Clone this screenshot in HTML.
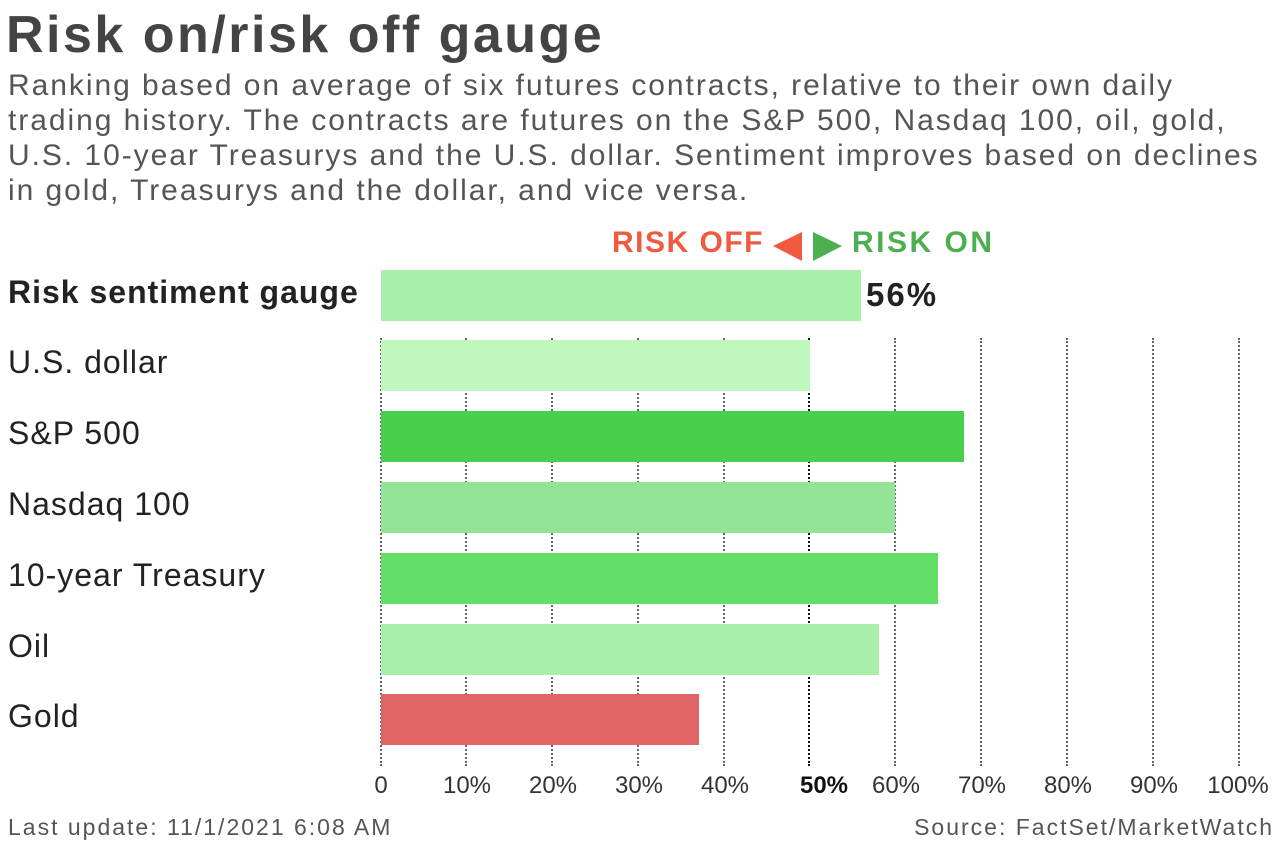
<!DOCTYPE html><html><head><style>
body{margin:0;width:1280px;height:844px;background:#fff;font-family:"Liberation Sans",sans-serif;position:relative;overflow:hidden}
.a{position:absolute;white-space:nowrap}
.lbl{font-size:32px;color:#222;left:8px;letter-spacing:1px}
.bar{position:absolute;left:381px;height:51px}
.g{position:absolute;top:338px;height:428px;width:0;border-left:2px dotted #666}
.t{position:absolute;top:772px;font-size:24px;color:#333;transform:translateX(-50%)}
</style></head><body>
<div class="a" style="left:6px;top:5px;font-size:52px;font-weight:bold;color:#444;letter-spacing:2.5px">Risk on/risk off gauge</div>
<div class="a" style="left:8px;top:68px;font-size:30px;line-height:35px;color:#555;letter-spacing:1.95px">Ranking based on average of six futures contracts, relative to their own daily<br>trading history. The contracts are futures on the S&amp;P 500, Nasdaq 100, oil, gold,<br>U.S. 10-year Treasurys and the U.S. dollar. Sentiment improves based on declines<br>in gold, Treasurys and the dollar, and vice versa.</div>
<div class="a" style="left:612px;top:226px;font-size:30px;font-weight:bold;color:#f05a40;letter-spacing:1.5px">RISK OFF</div>
<svg class="a" style="left:770px;top:230px" width="75" height="32"><polygon points="3,16 32,2 32,31" fill="#f05a40"/><polygon points="43,2 43,31 72,16" fill="#4caf50"/></svg>
<div class="a" style="left:852px;top:226px;font-size:30px;font-weight:bold;color:#4caf50;letter-spacing:2.5px">RISK ON</div>
<div class="g" style="left:380px"></div><div class="g" style="left:465px"></div><div class="g" style="left:551px"></div><div class="g" style="left:637px"></div><div class="g" style="left:723px"></div><div class="g" style="left:808px;border-left-color:#111"></div><div class="g" style="left:894px"></div><div class="g" style="left:980px"></div><div class="g" style="left:1066px"></div><div class="g" style="left:1152px"></div><div class="g" style="left:1238px"></div>
<div class="bar" style="top:270px;width:480px;background:#a8f0a8"></div>
<div class="bar" style="top:340px;width:429px;background:#bff8bf"></div>
<div class="bar" style="top:411px;width:583px;background:#48cf4e"></div>
<div class="bar" style="top:482px;width:514px;background:#92e396"></div>
<div class="bar" style="top:553px;width:557px;background:#63de66"></div>
<div class="bar" style="top:624px;width:498px;background:#a8f0a8"></div>
<div class="bar" style="top:694px;width:318px;background:#e06464"></div>
<div class="a" style="left:866px;top:276px;font-size:33px;font-weight:bold;color:#222;letter-spacing:2px">56%</div>
<div class="a lbl" style="top:274px;font-weight:bold">Risk sentiment gauge</div>
<div class="a lbl" style="top:344px">U.S. dollar</div>
<div class="a lbl" style="top:415px">S&amp;P 500</div>
<div class="a lbl" style="top:486px">Nasdaq 100</div>
<div class="a lbl" style="top:557px">10-year Treasury</div>
<div class="a lbl" style="top:628px">Oil</div>
<div class="a lbl" style="top:698px">Gold</div>
<div class="t" style="left:381px">0</div><div class="t" style="left:467px">10%</div><div class="t" style="left:553px">20%</div><div class="t" style="left:639px">30%</div><div class="t" style="left:725px">40%</div><div class="t" style="left:824px;font-weight:bold;color:#111">50%</div><div class="t" style="left:896px">60%</div><div class="t" style="left:982px">70%</div><div class="t" style="left:1068px">80%</div><div class="t" style="left:1154px">90%</div><div class="t" style="left:1238px">100%</div>
<div class="a" style="left:8px;top:814px;font-size:23px;color:#555;letter-spacing:2px">Last update: 11/1/2021 6:08 AM</div>
<div class="a" style="right:6px;top:814px;font-size:23px;color:#555;letter-spacing:2px">Source: FactSet/MarketWatch</div>
</body></html>
